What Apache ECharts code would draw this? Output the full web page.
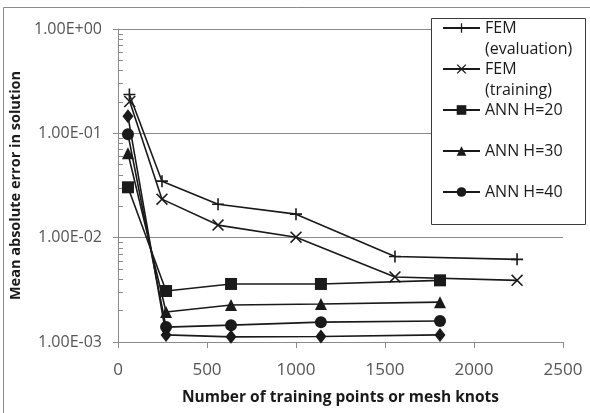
<!DOCTYPE html>
<html>
<head>
<meta charset="utf-8">
<script src="https://cdn.jsdelivr.net/npm/echarts@6/dist/echarts.min.js"></script>
<style>html,body{margin:0;padding:0;background:#fff}#c{width:590px;height:413px}</style>
</head>
<body>
<div id="c"></div>
<script>
// ---- data ----
const femEvalX   = [64, 247, 562, 1000, 1556, 2242];
const femEvalY   = [0.236, 0.0348, 0.0209, 0.0168, 0.0066, 0.0062];
const femTrainX  = [66, 247, 562, 1000, 1556, 2242];
const femTrainY  = [0.202, 0.0234, 0.0132, 0.0101, 0.0042, 0.0039];
const annX       = [56, 270, 635, 1140, 1809];
const ann20Y     = [0.0304, 0.00308, 0.0036, 0.0036, 0.0039];
const ann30Y     = [0.0644, 0.00194, 0.00226, 0.00231, 0.00241];
const ann40Y     = [0.098, 0.00139, 0.00145, 0.00155, 0.00159];
const ann50Y     = [0.1455, 0.00117, 0.00112, 0.00113, 0.00117];
const seriesNames = ['FEM (evaluation)', 'FEM (training)', 'ANN H=20', 'ANN H=30', 'ANN H=40', 'ANN H=50'];
const legendNames = seriesNames.slice(0, 5);
const xTicks = [0, 500, 1000, 1500, 2000, 2500];
const yMajor = [0.001, 0.01, 0.1, 1];
const yMinor = [];
[0.001, 0.01, 0.1].forEach(d => { for (let k = 2; k <= 9; k++) yMinor.push(+(k * d).toPrecision(3)); });

const zip = (xs, ys) => xs.map((x, i) => [x, ys[i]]);
const PLUS = 'path://M5.2,0H6.8V5.2H12V6.8H6.8V12H5.2V6.8H0V5.2H5.2Z';
const CROSS = 'path://M0,1.1L1.1,0L6,4.9L10.9,0L12,1.1L7.1,6L12,10.9L10.9,12L6,7.1L1.1,12L0,10.9L4.9,6Z';
const FONT = 'Open Sans';
const INK = '#1a1a1a';

function fmtExp(v) {
  const e = Math.round(Math.log10(v));
  return '1.00E' + (e < 0 ? '-' : '+') + String(Math.abs(e)).padStart(2, '0');
}

function legendFmt(n) {
  const i = n.indexOf(' (');
  const a = i >= 0 ? n.slice(0, i) : n;
  const b = i >= 0 ? n.slice(i + 1) : ' ';
  return '{t| }\n{t|' + a + '}\n{t|' + b + '}';
}

function mk(name, data, symbol, size) {
  return {
    name, type: 'line', data, symbol, symbolSize: size,
    lineStyle: { color: INK, width: 1.6 },
    itemStyle: { color: INK, borderWidth: 0 },
    z: 3,
    animation: false
  };
}

const chart = echarts.init(document.getElementById('c'), null, { renderer: 'canvas' });
chart.setOption({
  animation: false,
  textStyle: { fontFamily: FONT },
  grid: { left: 118, right: 27, top: 29, bottom: 71, containLabel: false },
  graphic: [
    { type: 'rect', z: 0, silent: true,
      shape: { x: 3.5, y: 7.5, width: 700, height: 600 },
      style: { fill: 'none', stroke: '#8a8a8a', lineWidth: 1 } },
    { type: 'rect', z: 50, silent: true,
      shape: { x: 431.5, y: 18.5, width: 154, height: 206 },
      style: { fill: '#fff', stroke: '#3a3a3a', lineWidth: 1 } }
  ],
  legend: {
    z: 60,
    orient: 'vertical',
    left: 442,
    top: -3.5,
    padding: 0,
    itemGap: -22,
    itemWidth: 37,
    itemHeight: 12,
    data: legendNames,
    formatter: legendFmt,
    textStyle: {
      fontFamily: FONT, fontSize: 16, color: INK,
      rich: { t: { fontFamily: FONT, fontSize: 16, color: INK, lineHeight: 21, height: 21 } }
    },
    selectedMode: false
  },
  xAxis: {
    type: 'value', min: 0, max: 2500, interval: 500,
    name: 'Number of training points or mesh knots',
    nameLocation: 'middle', nameGap: 48,
    nameTextStyle: { fontFamily: FONT, fontSize: 15.5, fontWeight: 'bold', color: INK },
    axisLine: { lineStyle: { color: '#8a8a8a', width: 1 } },
    axisTick: { show: true, inside: false, length: 6, lineStyle: { color: '#8a8a8a' } },
    axisLabel: { margin: 20, fontFamily: FONT, fontSize: 17, color: '#555',
      formatter: v => String(v), customValues: xTicks },
    splitLine: { show: false }
  },
  yAxis: [
    {
      type: 'log', logBase: 10, min: 0.001, max: 1,
      name: 'Mean absolute error in solution',
      nameLocation: 'middle', nameGap: 86,
      nameTextStyle: { fontFamily: FONT, fontSize: 14.5, fontWeight: 'bold', color: INK },
      axisLine: { show: true, lineStyle: { color: '#8a8a8a', width: 1 } },
      axisTick: { show: true, inside: false, length: 5, lineStyle: { color: '#8a8a8a' },
        customValues: yMajor },
      axisLabel: { margin: 16, fontFamily: FONT, fontSize: 16, color: '#555',
        formatter: fmtExp, customValues: yMajor },
      splitLine: { show: true, lineStyle: { color: '#8a8a8a', width: 1 } },
      minorTick: { show: false }
    },
    {
      type: 'log', logBase: 10, min: 0.001, max: 1, position: 'left',
      axisLine: { show: false },
      axisTick: { show: true, inside: true, length: 5, lineStyle: { color: '#8a8a8a' },
        customValues: yMinor },
      axisLabel: { show: false },
      splitLine: { show: false }
    }
  ],
  series: [
    mk(seriesNames[0], zip(femEvalX, femEvalY), PLUS, 12),
    mk(seriesNames[1], zip(femTrainX, femTrainY), CROSS, 12),
    mk(seriesNames[2], zip(annX, ann20Y), 'rect', 12),
    mk(seriesNames[3], zip(annX, ann30Y), 'triangle', 12),
    mk(seriesNames[4], zip(annX, ann40Y), 'circle', 12),
    mk(seriesNames[5], zip(annX, ann50Y), 'diamond', [11, 14])
  ]
});
</script>
</body>
</html>
